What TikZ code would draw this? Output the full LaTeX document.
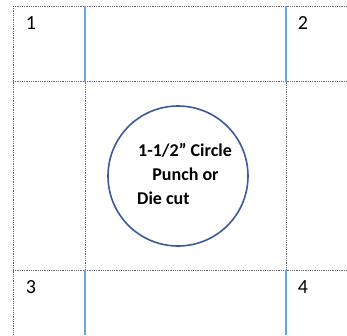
\documentclass[tikz,border=0pt]{standalone}
\usepackage{fontspec}
\setmainfont{Carlito}
\usetikzlibrary{positioning}

\definecolor{cutblue}{HTML}{6AA6DE}
\definecolor{ringblue}{HTML}{3B5A9A}
\tikzset{
  guide/.style={densely dotted, gray!80!black, line width=0.8pt},
  cutline/.style={cutblue, line width=2pt},
  cornerlabel/.style={font=\fontsize{20}{24}\selectfont, anchor=center},
  punchtext/.style={font=\fontsize{18}{21}\selectfont\bfseries}
}

\begin{document}
\begin{tikzpicture}[x=1pt, y=-1pt]
    \useasboundingbox (0,0) rectangle (347,335);
    % grid of dotted guides
    \draw[guide] (13,6) -- (347,6);
    \draw[guide] (13,81.5) -- (347,81.5);
    \draw[guide] (13,270) -- (347,270);
    \draw[guide] (13,6) -- (13,335);
    \draw[guide] (85,81.5) -- (85,270);
    \draw[guide] (286,81.5) -- (286,270);

    % cut lines
    \draw[cutline] (85,6) -- (85,81.5);
    \draw[cutline] (286,6) -- (286,81.5);
    \draw[cutline] (85,270) -- (85,335);
    \draw[cutline] (286,270) -- (286,335);

    % corner numbers
    \node[cornerlabel] (n1) at (31,23) {1};
    \node[cornerlabel] (n2) at (303,23) {2};
    \node[cornerlabel] (n3) at (31,287) {3};
    \node[cornerlabel] (n4) at (303,287) {4};

    % punch circle
    \node[circle, draw=ringblue, line width=1.6pt, minimum size=140pt, inner sep=0pt] (punch) at (178,176) {};
    \node[punchtext] (line1) at (185,150) {1-1/2” Circle};
    \node[punchtext] (line2) at (185.5,174) {Punch or};
    \node[punchtext, anchor=west, inner sep=0pt] (line3) at (137,198) {Die cut};
\end{tikzpicture}
\end{document}
